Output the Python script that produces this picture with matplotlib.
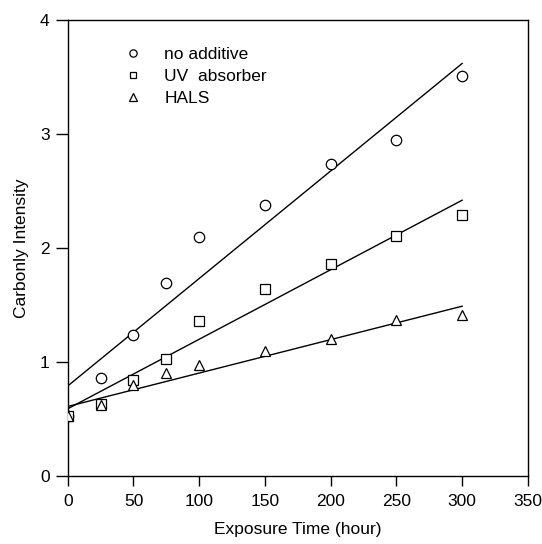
import matplotlib
matplotlib.use("Agg")
import matplotlib.pyplot as plt

plt.rcParams['font.family'] = ['Liberation Sans', 'DejaVu Sans']

# Exposure time (hour)
hours = [0, 25, 50, 75, 100, 150, 200, 250, 300]

# Carbonyl intensity
no_additive = [0.53, 0.86, 1.24, 1.69, 2.10, 2.38, 2.74, 2.95, 3.51]
uv_absorber = [0.53, 0.63, 0.84, 1.03, 1.36, 1.64, 1.86, 2.11, 2.29]
hals = [0.53, 0.62, 0.80, 0.90, 0.97, 1.10, 1.20, 1.37, 1.41]

# straight fit lines, end points
fit_x = [0, 300]
fit_no_additive = [0.79, 3.62]
fit_uv_absorber = [0.59, 2.42]
fit_hals = [0.61, 1.49]

fig = plt.figure(figsize=(5.42, 5.44), dpi=100)
ax = fig.add_axes([0.125, 0.125, 0.849, 0.838])

ms = 7.5
ax.plot(hours, no_additive, 'o', mfc='white', mec='black', mew=0.9, ms=ms,
        label='no additive', zorder=3)
ax.plot(hours, uv_absorber, 's', mfc='white', mec='black', mew=0.9, ms=ms - 0.5,
        label='UV  absorber', zorder=3)
ax.plot(hours, hals, '^', mfc='white', mec='black', mew=0.9, ms=ms,
        label='HALS', zorder=3)

ax.plot(fit_x, fit_no_additive, color='black', lw=1)
ax.plot(fit_x, fit_uv_absorber, color='black', lw=1)
ax.plot(fit_x, fit_hals, color='black', lw=1)

ax.set_xlim(0, 350)
ax.set_ylim(0, 4)
ax.set_xticks([0, 50, 100, 150, 200, 250, 300, 350])
ax.set_yticks([0, 1, 2, 3, 4])
ax.tick_params(direction='out', labelsize=12.5, width=1)
ax.tick_params(axis='x', length=7, pad=6)
ax.tick_params(axis='y', length=9, pad=4)
for s in ax.spines.values():
    s.set_linewidth(1)

ax.set_xlabel('Exposure Time (hour)', fontsize=12.5, labelpad=9)
ax.set_ylabel('Carbonly Intensity', fontsize=12.5, labelpad=8)

ax.legend(loc='upper left', bbox_to_anchor=(0.085, 0.975), frameon=False,
          fontsize=12.5, markerscale=0.7, handlelength=1.2, handletextpad=1.2,
          labelspacing=0.4)

fig.savefig('out.png', dpi=100)
